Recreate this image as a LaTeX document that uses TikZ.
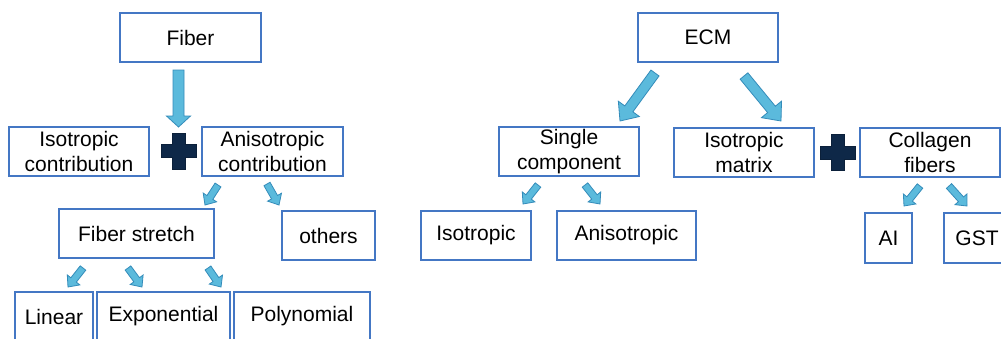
\documentclass[tikz,border=0pt]{standalone}
\usepackage{fontspec}
\setmainfont{Liberation Sans}
\usetikzlibrary{calc}
\definecolor{boxblue}{RGB}{68,119,196}
\definecolor{arrfill}{RGB}{91,186,220}
\definecolor{arrline}{RGB}{52,140,186}
\definecolor{plusnavy}{RGB}{14,40,72}
\newcommand\BlkArrow[5]{%
  \path ($(#2)!#5!(#1)$) coordinate (hh);
  \draw[blkarrow] ($(#1)!#3!90:(#2)$) -- ($(hh)!#3!90:(#2)$) -- ($(hh)!#4!90:(#2)$) -- (#2)
    -- ($(hh)!#4!-90:(#2)$) -- ($(hh)!#3!-90:(#2)$) -- ($(#1)!#3!-90:(#2)$) -- cycle;
}
\newcommand\BigArrow[2]{\BlkArrow{#1}{#2}{5.5pt}{12pt}{11pt}}
\newcommand\MidArrow[2]{\BlkArrow{#1}{#2}{5pt}{13pt}{15pt}}
\newcommand\SmallArrow[2]{\BlkArrow{#1}{#2}{3.5pt}{8pt}{9pt}}
\tikzset{
  box/.style={draw=boxblue, line width=2pt, fill=white, inner sep=0pt, align=center,
    font=\fontsize{21}{25}\selectfont, minimum height=49pt},
  blkarrow/.style={fill=arrfill, draw=arrline, line width=0.8pt, line join=miter},
  plussign/.pic={\fill[plusnavy, draw=plusnavy!80!black, line width=0.6pt]
    (-17.5,-6.5) -- (-6.5,-6.5) -- (-6.5,-18) -- (6.5,-18) -- (6.5,-6.5) -- (17.5,-6.5)
    -- (17.5,6.5) -- (6.5,6.5) -- (6.5,18) -- (-6.5,18) -- (-6.5,6.5) -- (-17.5,6.5) -- cycle;}
}
\begin{document}
\begin{tikzpicture}[x=1pt, y=-1pt]
\clip (0,0) rectangle (1001,338);
\fill[white] (0,0) rectangle (1001,338);
% left tree
\node[box, minimum width=141pt] (fiber) at (190.5,37.5) {Fiber};
\node[box, minimum width=140pt] (isoc) at (79,151.5) {Isotropic\\contribution};
\node[box, minimum width=141pt] (anisoc) at (272.5,151.5) {Anisotropic\\contribution};
\node[box, minimum width=155pt] (fstretch) at (136.5,233.5) {Fiber stretch};
\node[box, minimum width=93pt] (others) at (328.5,235.5) {others};
\node[box, minimum width=78pt] (linear) at (54,316.5) {Linear};
\node[box, minimum width=133pt] (expo) at (163.5,316.5) {Exponential};
\node[box, minimum width=136pt] (poly) at (302,316.5) {Polynomial};
\pic at (178.5,151) {plussign};
% right tree
\node[box, minimum width=140pt] (ecm) at (708,37.5) {ECM};
\node[box, minimum width=140pt] (single) at (569,151.5) {Single\\component};
\node[box, minimum width=140pt] (isomat) at (744,152.5) {Isotropic\\matrix};
\node[box, minimum width=140pt] (collagen) at (930,152.5) {Collagen\\fibers};
\node[box, minimum width=110pt] (isotropic) at (476,235.5) {Isotropic};
\node[box, minimum width=139pt] (aniso) at (626.5,235.5) {Anisotropic};
\node[box, minimum width=47pt, minimum height=50pt] (ai) at (888.5,238) {AI};
\node[box, minimum width=66pt, minimum height=50pt] (gst) at (977,238) {GST};
\pic at (837.5,152.5) {plussign};
% arrow end points
\coordinate (a1s) at (178.5,70);  \coordinate (a1e) at (178.5,127);
\coordinate (a2s) at (218,185);   \coordinate (a2e) at (205,205);
\coordinate (a3s) at (267,184);   \coordinate (a3e) at (279,205);
\coordinate (a4s) at (83,268);    \coordinate (a4e) at (68,287);
\coordinate (a5s) at (128,268);   \coordinate (a5e) at (142,287);
\coordinate (a6s) at (208,268);   \coordinate (a6e) at (221,287);
\coordinate (e1s) at (655,73);    \coordinate (e1e) at (620,121);
\coordinate (e2s) at (744,76);    \coordinate (e2e) at (781,121);
\coordinate (s1s) at (538,185);   \coordinate (s1e) at (523,204);
\coordinate (s2s) at (585,185);   \coordinate (s2e) at (600,204);
\coordinate (c1s) at (920,186);   \coordinate (c1e) at (904,206);
\coordinate (c2s) at (949,186);   \coordinate (c2e) at (967,206);
\BigArrow{a1s}{a1e}
\SmallArrow{a2s}{a2e}
\SmallArrow{a3s}{a3e}
\SmallArrow{a4s}{a4e}
\SmallArrow{a5s}{a5e}
\SmallArrow{a6s}{a6e}
\MidArrow{e1s}{e1e}
\MidArrow{e2s}{e2e}
\SmallArrow{s1s}{s1e}
\SmallArrow{s2s}{s2e}
\SmallArrow{c1s}{c1e}
\SmallArrow{c2s}{c2e}
\end{tikzpicture}
\end{document}
